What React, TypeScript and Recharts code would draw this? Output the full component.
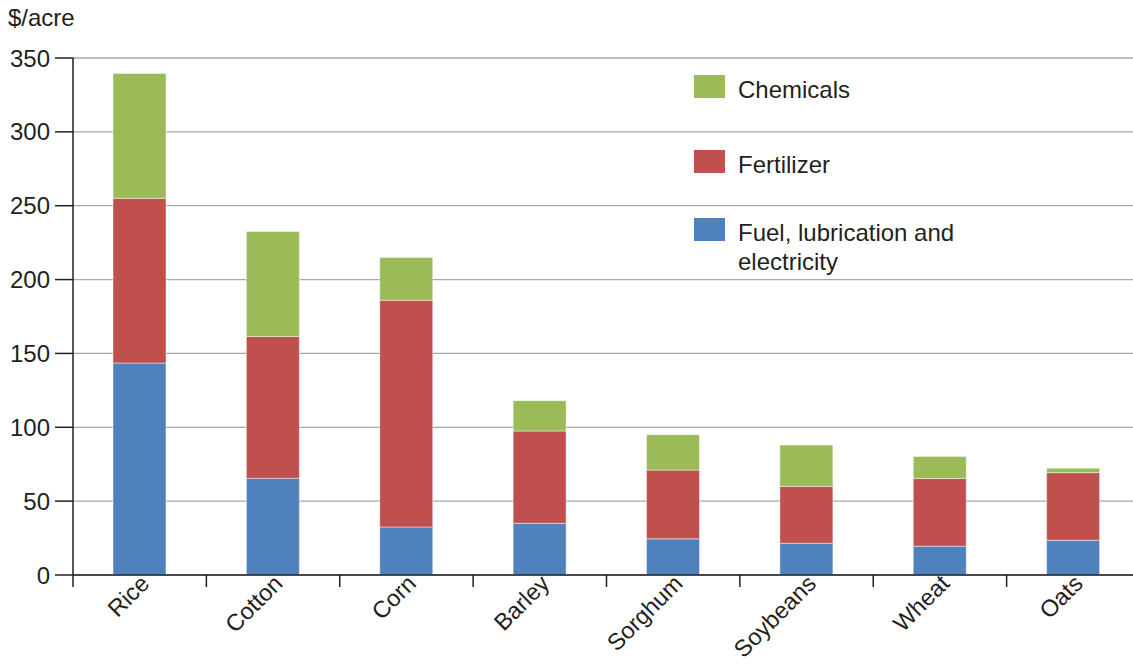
import React from 'react';
import { BarChart, Bar, XAxis, YAxis, CartesianGrid, Legend } from 'recharts';

const crops = ['Rice', 'Cotton', 'Corn', 'Barley', 'Sorghum', 'Soybeans', 'Wheat', 'Oats'];
const fuel = [143.5, 65.5, 32.5, 35, 24.5, 21.5, 19.5, 23.5];
const fertilizer = [111.5, 96, 153.5, 62.5, 46.5, 38.5, 45.8, 45.8];
const chemicals = [84.5, 71, 29, 20.5, 24, 28, 15, 3];
const yTicks = [0, 50, 100, 150, 200, 250, 300, 350];

const data = crops.map((crop, i) => ({
  crop,
  fuel: fuel[i],
  fertilizer: fertilizer[i],
  chemicals: chemicals[i],
}));

const FONT = '"Liberation Sans", Arial, Helvetica, sans-serif';
const TEXT = '#231f20';

const CHART_W = 1145;
const PLOT_LEFT = 73;
const PLOT_RIGHT = 1140;
const BAND = (PLOT_RIGHT - PLOT_LEFT) / crops.length;

// category label plus the tick mark on the left edge of its band
const CropTick = (props: any) => {
  const { x, y, payload } = props;
  const left = x - BAND / 2;
  return (
    <g>
      <line x1={left} x2={left} y1={y - 2} y2={y + 10} stroke={TEXT} strokeWidth={1.5} />
      <g transform={`translate(${x - 1},${y - 4})`}>
        <text
          textAnchor="end"
          transform="rotate(-45)"
          dy="0.72em"
          fontSize={23.5}
          fill={TEXT}
          fontFamily={FONT}
        >
          {payload.value}
        </text>
      </g>
    </g>
  );
};

const legendRows = [
  { key: 'chemicals', label: ['Chemicals'], color: '#9bbb59', top: 16 },
  { key: 'fertilizer', label: ['Fertilizer'], color: '#c0504d', top: 91 },
  { key: 'fuel', label: ['Fuel, lubrication and', 'electricity'], color: '#4f81bd', top: 159 },
];

const LegendBox = () => (
  <div style={{ position: 'relative', width: 300, height: 220, fontFamily: FONT }}>
    {legendRows.map((r) => (
      <div key={r.key} style={{ position: 'absolute', left: 0, top: r.top }}>
        <div style={{ position: 'absolute', left: 0, top: 0, width: 31, height: 23, background: r.color }} />
        <div style={{ position: 'absolute', left: 44, top: 0, fontSize: 24, lineHeight: '29px', color: TEXT, whiteSpace: 'nowrap' }}>
          {r.label.map((l) => (
            <div key={l}>{l}</div>
          ))}
        </div>
      </div>
    ))}
  </div>
);

export default function App() {
  return (
    <div style={{ position: 'absolute', left: 0, top: 0, width: 1133, height: 664, overflow: 'hidden', background: '#fff' }}>
      <div style={{ position: 'absolute', left: 8, top: 4, fontSize: 24, color: TEXT, fontFamily: FONT }}>$/acre</div>
      <BarChart
        width={CHART_W}
        height={664}
        data={data}
        margin={{ top: 58, right: CHART_W - PLOT_RIGHT, left: 0, bottom: 0 }}
        barCategoryGap={0}
      >
        <CartesianGrid vertical={false} stroke="#a9a9a9" strokeWidth={1.3} />
        <XAxis
          dataKey="crop"
          height={89}
          axisLine={{ stroke: TEXT, strokeWidth: 1.5 }}
          tickLine={false}
          tickSize={0}
          tickMargin={2}
          interval={0}
          tick={<CropTick />}
        />
        <YAxis
          domain={[0, 350]}
          ticks={yTicks}
          width={PLOT_LEFT}
          axisLine={{ stroke: TEXT, strokeWidth: 1.5 }}
          tickLine={{ stroke: TEXT, strokeWidth: 1.5 }}
          tickSize={18}
          tickMargin={5}
          tick={{ fontSize: 24, fill: TEXT, fontFamily: FONT }}
        />
        <Legend
          layout="horizontal"
          verticalAlign="middle"
          align="center"
          content={() => <LegendBox />}
          wrapperStyle={{ left: 694, top: 59, width: 300 }}
        />
        <Bar dataKey="fuel" name="Fuel, lubrication and electricity" stackId="a" fill="#4f81bd" stroke="#ffffff" strokeOpacity={0.45} strokeWidth={1} barSize={53} isAnimationActive={false} />
        <Bar dataKey="fertilizer" name="Fertilizer" stackId="a" fill="#c0504d" stroke="#ffffff" strokeOpacity={0.45} strokeWidth={1} barSize={53} isAnimationActive={false} />
        <Bar dataKey="chemicals" name="Chemicals" stackId="a" fill="#9bbb59" stroke="#ffffff" strokeOpacity={0.45} strokeWidth={1} barSize={53} isAnimationActive={false} />
      </BarChart>
    </div>
  );
}
